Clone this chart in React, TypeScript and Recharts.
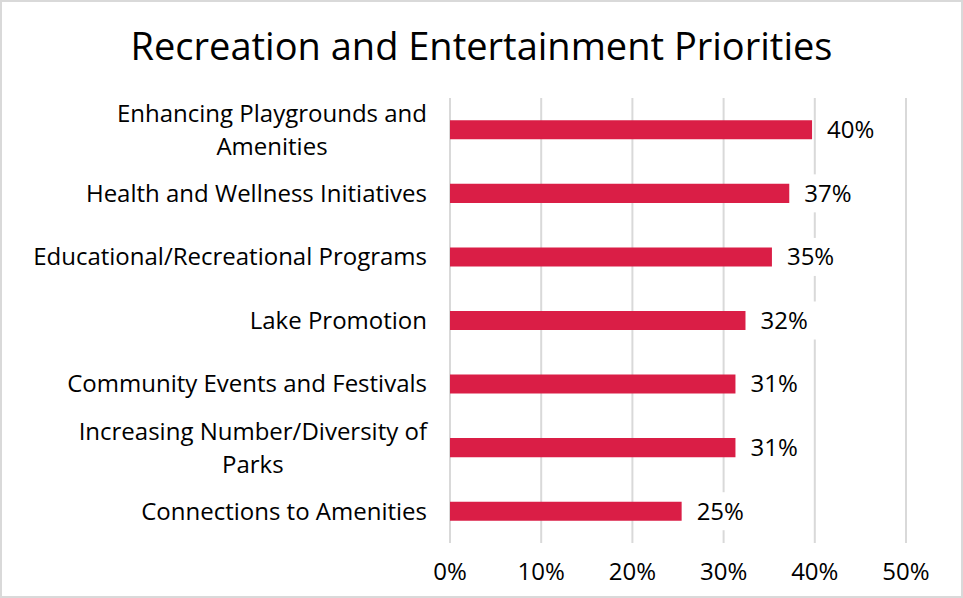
import { BarChart, Bar, XAxis, YAxis, CartesianGrid, LabelList } from 'recharts';

const categories = [
  'Enhancing Playgrounds and Amenities',
  'Health and Wellness Initiatives',
  'Educational/Recreational Programs',
  'Lake Promotion',
  'Community Events and Festivals',
  'Increasing Number/Diversity of Parks',
  'Connections to Amenities',
];
const shares = [39.7, 37.2, 35.3, 32.4, 31.3, 31.3, 25.4];
const xTicks = [0, 10, 20, 30, 40, 50];

const data = categories.map((name, i) => ({ name, value: shares[i] }));

const FONT = '"Open Sans", Lato, sans-serif';
const LABEL_SIZE = 24;

let ctx: CanvasRenderingContext2D | null = null;
function measure(text: string) {
  if (!ctx) ctx = document.createElement('canvas').getContext('2d');
  if (!ctx) return text.length * 12;
  ctx.font = `${LABEL_SIZE}px ${FONT}`;
  return ctx.measureText(text).width;
}

// wrap words so that a line stays under maxWidth
function wrap(text: string, maxWidth: number) {
  const words = text.split(' ');
  const lines: string[] = [];
  let cur = '';
  words.forEach((w) => {
    const next = cur ? cur + ' ' + w : w;
    if (cur && measure(next) > maxWidth) {
      lines.push(cur);
      cur = w;
    } else {
      cur = next;
    }
  });
  if (cur) lines.push(cur);
  return lines;
}

function CategoryTick(props: any) {
  const { x, y, payload } = props;
  const lines = wrap(payload.value, 405);
  const blockW = Math.max(...lines.map(measure));
  // multi-line labels are centred within their block, block is right aligned
  const center = x - 23 - blockW / 2;
  const lh = 33;
  const startY = y - ((lines.length - 1) * lh) / 2;
  return (
    <text
      x={center}
      y={startY}
      textAnchor="middle"
      fontSize={LABEL_SIZE}
      fontFamily={FONT}
      fill="#000"
    >
      {lines.map((l, i) => (
        <tspan key={i} x={center} y={startY + i * lh} dy="0.35em">
          {l}
        </tspan>
      ))}
    </text>
  );
}

function ValueLabel(props: any) {
  const { x, y, width, height, value } = props;
  const tx = x + width + 15;
  const cy = y + height / 2;
  const txt = `${Math.round(value)}%`;
  return (
    <g>
      <rect x={tx - 2} y={cy - 19} width={60} height={38} fill="#fff" />
      <text x={tx} y={cy} dy="0.35em" fontSize={LABEL_SIZE} fontFamily={FONT} fill="#000">
        {txt}
      </text>
    </g>
  );
}

export default function App() {
  return (
    <div
      style={{
        position: 'absolute',
        left: 0,
        top: 0,
        width: 963,
        height: 598,
        boxSizing: 'border-box',
        border: '2px solid #d9d9d9',
        background: '#fff',
        fontFamily: FONT,
      }}
    >
      <div
        style={{
          position: 'absolute',
          left: 0,
          top: 17,
          width: '100%',
          textAlign: 'center',
          fontSize: 38,
          lineHeight: '52px',
          color: '#000',
        }}
      >
        Recreation and Entertainment Priorities
      </div>
      <div style={{ position: 'absolute', left: -2, top: -2 }}>
        <BarChart
          width={963}
          height={598}
          data={data}
          layout="vertical"
          margin={{ top: 98, right: 57, left: 0, bottom: 0 }}
          barCategoryGap="65%"
        >
          <CartesianGrid horizontal={false} stroke="#d9d9d9" strokeWidth={2} />
          <XAxis
            type="number"
            domain={[0, 50]}
            ticks={xTicks}
            tickFormatter={(v: number) => `${v}%`}
            axisLine={false}
            tickLine={false}
            tickMargin={14}
            height={55}
            tick={{ fontSize: LABEL_SIZE, fill: '#000', fontFamily: FONT }}
          />
          <YAxis
            type="category"
            dataKey="name"
            width={450}
            axisLine={false}
            tickLine={false}
            tickSize={0}
            tickMargin={0}
            interval={0}
            tick={<CategoryTick />}
          />
          <Bar dataKey="value" fill="#DA1E46" isAnimationActive={false}>
            <LabelList dataKey="value" content={<ValueLabel />} />
          </Bar>
        </BarChart>
      </div>
    </div>
  );
}
